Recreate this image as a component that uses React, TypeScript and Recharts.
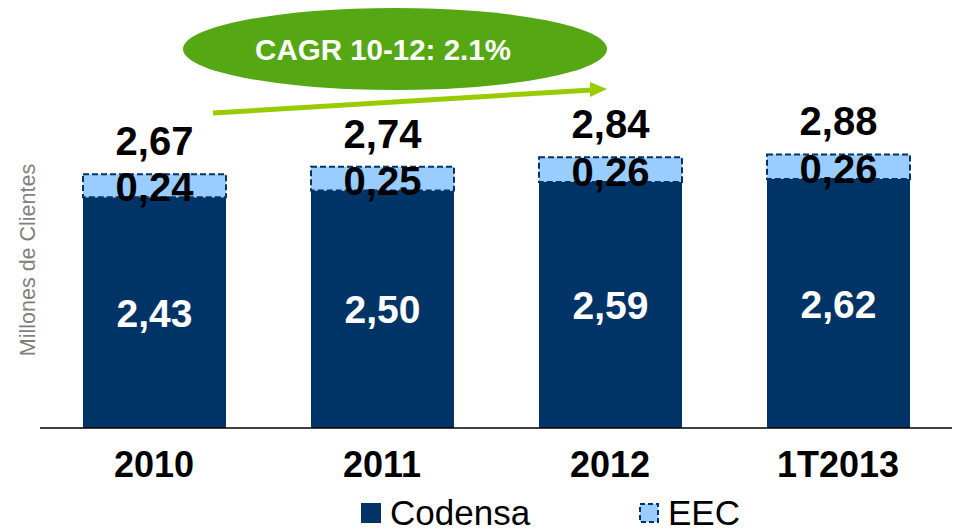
import { Bar, BarChart, LabelList, XAxis, YAxis } from 'recharts';

const categories = ['2010', '2011', '2012', '1T2013'];
const codensa = [2.43, 2.5, 2.59, 2.62];
const eec = [0.24, 0.25, 0.26, 0.26];
const totals = [2.67, 2.74, 2.84, 2.88];
const cagrText = 'CAGR 10-12: 2.1%';
const yTitle = 'Millones de Clientes';

const data = categories.map((year, i) => ({
  year,
  codensa: codensa[i],
  eec: eec[i],
  total: totals[i],
}));

const NAVY = '#003366';
const LIGHT = '#99CCFF';
const FONT = '"Liberation Sans", Arial, sans-serif';

const fmt = (v: number | string) => Number(v).toFixed(2).replace('.', ',');

const InsideLabel = (props: any) => {
  const { x, y, width, height, value } = props;
  return (
    <text x={x + width / 2} y={y + height / 2 + 14} textAnchor="middle" fill="#fff" fontSize={39} fontWeight="bold" fontFamily={FONT}>
      {fmt(value)}
    </text>
  );
};

const EecLabel = (props: any) => {
  const { x, y, width, height, value } = props;
  return (
    <text x={x + width / 2} y={y + height + 4} textAnchor="middle" fill="#000" fontSize={40} fontWeight="bold" fontFamily={FONT}>
      {fmt(value)}
    </text>
  );
};

const TotalLabel = (props: any) => {
  const { x, y, width, value } = props;
  return (
    <text x={x + width / 2} y={y - 19} textAnchor="middle" fill="#000" fontSize={40} fontWeight="bold" fontFamily={FONT}>
      {fmt(value)}
    </text>
  );
};

const YearTick = (props: any) => {
  const { x, y, payload } = props;
  return (
    <text x={x} y={y + 49} textAnchor="middle" fill="#000" fontSize={36} fontWeight="bold" fontFamily={FONT}>
      {payload.value}
    </text>
  );
};

export default function App() {
  return (
    <div style={{ position: 'relative', width: 955, height: 530, overflow: 'hidden', fontFamily: FONT }}>
      <style>{'body{margin:0}'}</style>
      <BarChart width={955} height={530} data={data} margin={{ top: 48, right: 3, left: 0, bottom: 42 }}>
        <YAxis
          domain={[0, 4]}
          width={40}
          axisLine={false}
          tickLine={false}
          tick={false}
          label={{
            content: () => (
              <text x={35} y={260} transform="rotate(-90 35 260)" textAnchor="middle" fill="#7f7f7f" fontSize={21.5} fontFamily={FONT}>
                {yTitle}
              </text>
            ),
          }}
        />
        <XAxis
          dataKey="year"
          height={60}
          tickSize={0}
          tickMargin={0}
          tickLine={false}
          axisLine={{ stroke: '#000', strokeWidth: 1.5 }}
          tick={<YearTick />}
          interval={0}
        />
        <Bar dataKey="codensa" stackId="a" fill={NAVY} barSize={143} isAnimationActive={false}>
          <LabelList dataKey="codensa" content={<InsideLabel />} />
        </Bar>
        <Bar
          dataKey="eec"
          stackId="a"
          fill={LIGHT}
          stroke={NAVY}
          strokeWidth={2}
          strokeDasharray="6 3"
          barSize={143}
          isAnimationActive={false}
        >
          <LabelList dataKey="eec" content={<EecLabel />} />
          <LabelList dataKey="total" content={<TotalLabel />} />
        </Bar>
      </BarChart>

      <svg width={955} height={530} style={{ position: 'absolute', left: 0, top: 0, pointerEvents: 'none' }}>
        <ellipse cx={395} cy={49} rx={212} ry={41} fill="#55A814" />
        <text x={383} y={60} textAnchor="middle" fill="#fff" fontSize={29.5} fontWeight="bold" fontFamily={FONT}>
          {cagrText}
        </text>
        <line x1={213} y1={113} x2={592} y2={90} stroke="#99CC00" strokeWidth={5} />
        <polygon points="590,82 607,89 590,97" fill="#99CC00" />

        <rect x={361} y={503} width={20} height={20} fill={NAVY} />
        <text x={390} y={525} fontSize={35} fill="#000" fontFamily={FONT}>
          Codensa
        </text>
        <rect x={640} y={504} width={18} height={18} fill={LIGHT} stroke={NAVY} strokeWidth={2} strokeDasharray="5 3" />
        <text x={668} y={525} fontSize={35} fill="#000" fontFamily={FONT}>
          EEC
        </text>
      </svg>
    </div>
  );
}
